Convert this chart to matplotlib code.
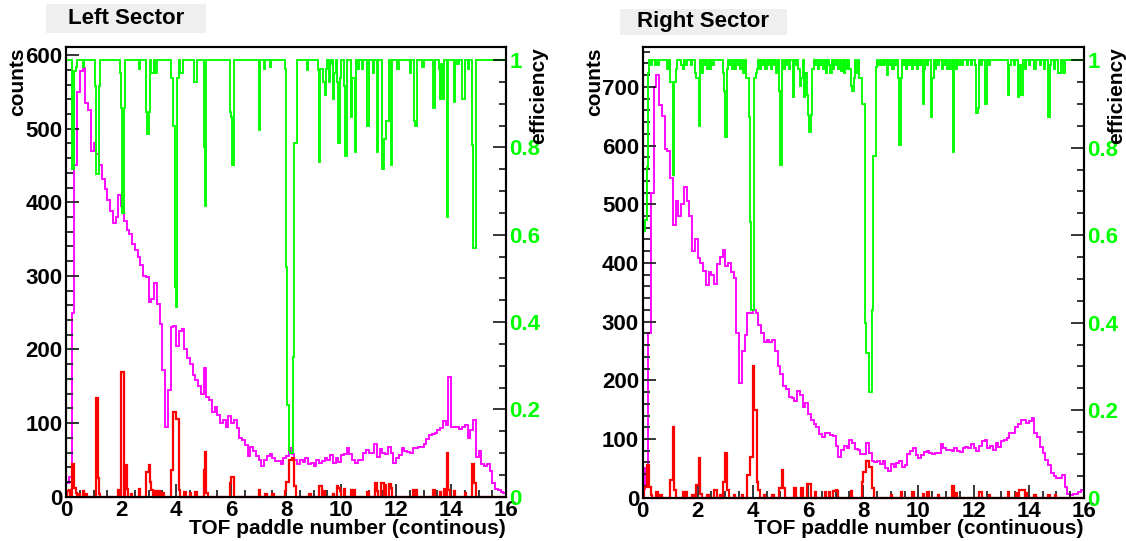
import numpy as np
import matplotlib
matplotlib.use('Agg')
import matplotlib.pyplot as plt
from matplotlib.patches import Rectangle
from matplotlib.ticker import MultipleLocator

plt.rcParams['font.family'] = ['Liberation Sans', 'DejaVu Sans']
plt.rcParams['font.weight'] = 'bold'

# ---- data ----
# magenta: all hits per paddle, 0.1 wide bins from 0 to 16
left_counts = [18, 27, 250, 450, 550, 578, 582, 535, 525, 470,
               480, 465, 450, 432, 418, 403, 388, 372, 380, 410,
               395, 375, 362, 357, 343, 335, 325, 315, 300, 298,
               265, 268, 290, 262, 235, 172, 95, 145, 230, 232,
               205, 225, 228, 200, 188, 180, 165, 158, 150, 140,
               175, 136, 131, 115, 122, 111, 100, 104, 95, 110,
               100, 104, 93, 80, 77, 70, 55, 68, 62, 55,
               50, 42, 50, 55, 58, 52, 49, 49, 45, 52,
               55, 66, 58, 50, 45, 50, 47, 52, 44, 46,
               42, 50, 46, 48, 52, 50, 57, 46, 52, 47,
               57, 58, 66, 58, 50, 46, 50, 50, 60, 64,
               59, 60, 72, 54, 65, 59, 58, 68, 59, 46,
               52, 56, 66, 62, 61, 60, 66, 66, 68, 68,
               72, 78, 84, 85, 86, 90, 93, 103, 98, 163,
               95, 95, 95, 92, 95, 97, 80, 90, 104, 54,
               62, 45, 42, 45, 35, 19, 10, 9, 6, 5]

right_counts = [15, 50, 280, 520, 700, 720, 670, 650, 595, 590,
                545, 465, 505, 480, 500, 530, 505, 480, 420, 440,
                408, 400, 387, 362, 385, 380, 365, 398, 410, 422,
                395, 400, 385, 375, 280, 195, 250, 278, 315, 315,
                320, 314, 295, 280, 265, 268, 265, 268, 250, 225,
                210, 190, 186, 172, 170, 165, 182, 175, 154, 162,
                143, 132, 126, 120, 109, 103, 111, 111, 107, 105,
                88, 69, 82, 88, 85, 98, 93, 83, 81, 74,
                75, 93, 76, 62, 60, 63, 58, 62, 50, 46,
                57, 53, 59, 63, 53, 55, 75, 80, 85, 72,
                68, 72, 78, 79, 76, 75, 77, 76, 92, 85,
                82, 81, 80, 84, 80, 78, 84, 86, 84, 91,
                85, 80, 88, 96, 98, 84, 88, 82, 93, 86,
                96, 99, 102, 110, 110, 120, 125, 132, 133, 128,
                130, 136, 110, 103, 86, 76, 65, 56, 42, 37,
                33, 33, 38, 18, 7, 5, 7, 7, 10, 13]

# red: second selection, 0.05 wide bins; only the non-empty bins are listed
left_red_x = [0.075, 0.125, 0.225, 0.275, 0.325, 0.375, 0.475, 0.625, 0.725,
              1.125, 1.175, 1.225, 1.925, 2.025, 2.075, 2.175, 2.225, 2.375,
              2.675, 2.925, 2.975, 3.025, 3.075, 3.125, 3.275, 3.375, 3.525,
              3.825, 3.875, 3.925, 3.975, 4.025, 4.075, 4.125, 4.325, 4.525,
              4.725, 5.025, 5.075, 5.125, 5.975, 6.025, 6.075, 7.025, 7.275,
              7.525, 7.975, 8.025, 8.075, 8.125, 8.175, 8.225, 8.275, 8.325,
              8.875, 9.225, 9.275, 9.375, 9.725, 9.875, 9.925, 9.975, 10.125,
              10.375, 10.475, 10.975, 11.275, 11.325, 11.475, 11.525, 11.625,
              11.775, 11.825, 12.625, 12.725, 13.375, 13.625, 13.775, 13.875,
              13.925, 14.125, 14.525, 14.775, 14.825, 14.875]
left_red_y = [8, 9, 45, 45, 12, 5, 4, 8, 4,
              134, 25, 4, 9, 170, 170, 43, 10, 3,
              10, 34, 34, 43, 20, 9, 8, 8, 5,
              36, 36, 115, 115, 106, 106, 9, 6, 5,
              6, 36, 61, 5, 18, 27, 27, 9, 4,
              3, 8, 20, 20, 50, 50, 52, 52, 14,
              4, 14, 14, 8, 4, 14, 12, 8, 11,
              9, 9, 7, 18, 8, 18, 18, 16,
              17, 12, 9, 9, 9, 6, 10, 59,
              9, 8, 5, 45, 45, 18]

right_red_x = [0.075, 0.125, 0.175, 0.225, 0.275, 0.325, 0.525, 0.675, 1.025,
               1.075, 1.125, 1.175, 1.475, 1.575, 1.825, 1.975, 2.025, 2.075,
               2.125, 2.375, 2.625, 2.675, 2.825, 2.925, 2.975, 3.025, 3.075,
               3.125, 3.325, 3.625, 3.825, 3.875, 3.925, 3.975, 4.025, 4.075,
               4.125, 4.175, 4.225, 4.425, 4.725, 4.975, 5.025, 5.075, 5.125,
               5.525, 5.775, 5.975, 6.025, 6.075, 6.275, 6.625, 6.775, 6.925,
               6.975, 7.025, 7.075, 7.575, 7.975, 8.025, 8.075, 8.125, 8.175,
               8.225, 8.275, 8.325, 8.375, 9.025, 9.375, 9.775, 9.825, 10.175,
               10.325, 10.375, 10.725, 11.225, 11.275, 11.375, 12.225, 12.275,
               12.575, 13.275, 13.575, 13.675, 13.725, 13.775, 13.825, 13.925,
               14.225, 14.725, 14.975]
right_red_y = [19, 19, 55, 55, 19, 5, 10, 4, 30,
               30, 121, 13, 10, 10, 4, 22, 22, 67,
               7, 5, 13, 13, 5, 27, 27, 77, 13,
               13, 5, 5, 39, 39, 70, 70, 224, 150,
               150, 27, 13, 5, 5, 16, 16, 48, 16,
               16, 16, 23, 23, 23, 10, 10, 10, 12,
               12, 13, 12, 12, 27, 44, 44, 62, 62,
               53, 53, 16, 16, 5, 10, 10, 10, 6,
               10, 10, 5, 20, 20, 8, 10, 10,
               5, 10, 8, 13, 13, 13, 13, 8,
               5, 5, 5]

# green: efficiency, 0.05 wide bins; listed bins are the ones below 1
left_eff_x = [0.225, 0.275, 0.325, 0.375, 0.625, 1.075, 1.125, 1.175, 1.225,
              1.975, 2.025, 2.075, 2.125, 2.675, 2.925, 2.975, 3.025, 3.125,
              3.175, 3.275, 3.825, 3.875, 3.925, 3.975, 4.025, 4.075, 4.175,
              4.225, 4.675, 4.725, 5.025, 5.075, 5.975, 6.025, 6.075, 7.025,
              7.225, 7.425, 7.975, 8.025, 8.075, 8.125, 8.175, 8.225, 8.275,
              8.325, 8.375, 8.775, 9.175, 9.225, 9.275, 9.325, 9.375, 9.425,
              9.475, 9.575, 9.625, 9.725, 9.775, 9.875, 9.925, 9.975, 10.125,
              10.175, 10.375, 10.425, 10.475, 10.525, 10.625, 10.775, 10.975,
              11.175, 11.325, 11.525, 11.575, 11.625, 11.675, 11.725, 11.825,
              12.075, 12.525, 12.675, 12.725, 12.975, 13.375, 13.575, 13.625,
              13.675, 13.725, 13.875, 14.125, 14.225, 14.275, 14.425, 14.475,
              14.625, 14.775, 14.825, 14.875]
left_eff_y = [0.75, 0.75, 0.975, 0.985, 0.985, 0.94, 0.74, 0.74, 0.94,
              0.97, 0.89, 0.65, 0.89, 0.98, 0.88, 0.83, 0.88, 0.97,
              0.97, 0.97, 0.96, 0.96, 0.85, 0.48, 0.435, 0.96, 0.97,
              0.97, 0.95, 0.95, 0.80, 0.665, 0.88, 0.87, 0.76, 0.84,
              0.98, 0.985, 0.98, 0.527, 0.21, 0.108, 0.10, 0.10, 0.32,
              0.81, 0.81, 0.977, 0.977, 0.767, 0.98, 0.98, 0.95, 0.92,
              0.98, 0.95, 0.99, 0.91, 0.97, 0.95, 0.81, 0.96, 0.94,
              0.78, 0.87, 0.96, 0.96, 0.79, 0.98, 0.98, 0.85,
              0.97, 0.79, 0.75, 0.82, 0.82, 0.86, 0.86, 0.76,
              0.98, 0.97, 0.86, 0.85, 0.985, 0.89, 0.98, 0.91,
              0.99, 0.91, 0.64, 0.905, 0.99, 0.99, 0.91, 0.91,
              0.98, 0.806, 0.57, 0.57]

right_eff_x = [0.025, 0.075, 0.125, 0.175, 0.225, 0.325, 0.475, 0.575, 0.925,
               1.025, 1.075, 1.125, 1.175, 1.225, 1.425, 1.475, 1.575, 1.775,
               1.925, 1.975, 2.025, 2.075, 2.175, 2.275, 2.375, 2.475, 2.575,
               2.925, 2.975, 3.025, 3.075, 3.175, 3.275, 3.375, 3.475, 3.575,
               3.675, 3.775, 3.825, 3.875, 3.925, 3.975, 4.025, 4.075, 4.125,
               4.175, 4.275, 4.375, 4.475, 4.575, 4.675, 4.775, 4.875, 4.975,
               5.025, 5.125, 5.225, 5.325, 5.475, 5.575, 5.675, 5.725, 5.775,
               5.875, 5.925, 5.975, 6.025, 6.075, 6.125, 6.175, 6.275, 6.375,
               6.475, 6.575, 6.675, 6.775, 6.825, 6.925, 7.025, 7.125, 7.225,
               7.325, 7.425, 7.525, 7.575, 7.625, 7.675, 7.775, 7.875, 7.925,
               7.975, 8.025, 8.075, 8.125, 8.175, 8.225, 8.275, 8.325, 8.375,
               8.425, 8.475, 8.575, 8.675, 8.775, 8.875, 8.975, 9.075, 9.175,
               9.275, 9.325, 9.375, 9.475, 9.575, 9.675, 9.775, 9.875, 9.975,
               10.075, 10.175, 10.225, 10.325, 10.475, 10.525, 10.625, 10.725,
               10.875, 10.975, 11.075, 11.175, 11.275, 11.375, 11.475, 11.575,
               11.775, 11.925, 12.075, 12.125, 12.175, 12.275, 12.425, 12.475,
               12.575, 13.275, 13.325, 13.475, 13.625, 13.675, 13.725, 13.775,
               13.875, 14.025, 14.225, 14.425, 14.575, 14.725, 14.775, 14.925,
               15.075, 15.125, 15.275]
right_eff_y = [0.61, 0.61, 0.634, 0.756, 0.97, 0.99, 0.99, 0.99, 0.98,
               0.95, 0.95, 0.737, 0.95, 0.98, 0.99, 0.98, 0.99, 0.99,
               0.97, 0.96, 0.96, 0.85, 0.97, 0.99, 0.98, 0.98, 0.99,
               0.97, 0.93, 0.825, 0.98, 0.99, 0.98, 0.98, 0.99, 0.98,
               0.97, 0.96, 0.96, 0.87, 0.63, 0.43, 0.43, 0.96, 0.97,
               0.98, 0.98, 0.99, 0.98, 0.99, 0.98, 0.99, 0.97, 0.93,
               0.76, 0.98, 0.99, 0.98, 0.916, 0.99, 0.98, 0.94, 0.96,
               0.916, 0.97, 0.92, 0.875, 0.836, 0.875, 0.98, 0.99, 0.98,
               0.99, 0.98, 0.97, 0.99, 0.97, 0.98, 0.99, 0.98, 0.975,
               0.97, 0.98, 0.98, 0.94, 0.93, 0.96, 0.97, 0.96, 0.96,
               0.90, 0.90, 0.40, 0.33, 0.33, 0.242, 0.242, 0.43, 0.78,
               0.78, 0.985, 0.99, 0.99, 0.99, 0.965, 0.99, 0.98, 0.99,
               0.96, 0.806, 0.96, 0.99, 0.98, 0.99, 0.98, 0.99, 0.98,
               0.99, 0.90, 0.98, 0.99, 0.87, 0.96, 0.98, 0.99,
               0.98, 0.99, 0.98, 0.98, 0.79, 0.98, 0.99, 0.99,
               0.99, 0.99, 0.99, 0.88, 0.89, 0.99, 0.90, 0.90,
               0.99, 0.92, 0.99, 0.99, 0.916, 0.99, 0.92, 0.92,
               0.98, 0.99, 0.98, 0.99, 0.98, 0.87, 0.99, 0.98,
               0.97, 0.97, 0.97]

panels = [
    dict(title='Left Sector', xlabel='TOF paddle number (continous)',
         counts=left_counts, red_x=left_red_x, red_y=left_red_y,
         eff_x=left_eff_x, eff_y=left_eff_y, ymax=611,
         ax_px=(66, 47, 506, 496.7), title_box=(46, 4, 206, 33)),
    dict(title='Right Sector', xlabel='TOF paddle number (continuous)',
         counts=right_counts, red_x=right_red_x, red_y=right_red_y,
         eff_x=right_eff_x, eff_y=right_eff_y, ymax=768,
         ax_px=(642.5, 47, 1084, 497.7), title_box=(620, 9, 787, 35)),
]

W, H = 1126, 541
fig = plt.figure(figsize=(W / 100, H / 100), dpi=100)

coarse_edges = np.linspace(0, 16, 161)
fine_edges = np.linspace(0, 16, 321)

for p in panels:
    x0, y0, x1, y1 = p['ax_px']
    ax = fig.add_axes([x0 / W, 1 - y1 / H, (x1 - x0) / W, (y1 - y0) / H])

    red = np.zeros(320)
    red[(np.array(p['red_x']) / 0.05).astype(int)] = p['red_y']
    eff = np.ones(320)
    eff[(np.array(p['eff_x']) / 0.05).astype(int)] = p['eff_y']

    ax.stairs(p['counts'], coarse_edges, color='#ff00ff', lw=1.35, baseline=0)
    ax.stairs(red, fine_edges, color='#ff0000', lw=1.6, baseline=0,
              zorder=2.6, clip_on=False)
    ax.set_xlim(0, 16)
    ax.set_ylim(0, p['ymax'])

    ax2 = ax.twinx()
    ax2.stairs(eff, fine_edges, color='#00ff00', lw=1.35, baseline=None)
    ax2.set_ylim(0, 1.03)

    for a in (ax, ax2):
        for s in a.spines.values():
            s.set_linewidth(1.5)
    ax.xaxis.set_major_locator(MultipleLocator(2))
    ax.xaxis.set_minor_locator(MultipleLocator(0.5))
    ax.yaxis.set_major_locator(MultipleLocator(100))
    ax.yaxis.set_minor_locator(MultipleLocator(20))
    ax2.yaxis.set_major_locator(MultipleLocator(0.2))
    ax2.yaxis.set_minor_locator(MultipleLocator(0.05))
    ax2.yaxis.set_major_formatter(plt.FuncFormatter(lambda v, _: '%g' % round(v, 1)))

    ax.tick_params(which='major', direction='in', length=9.5, width=1.1,
                   labelsize=16, pad=2.5)
    ax.tick_params(which='minor', direction='in', length=5, width=1.1)
    ax2.tick_params(which='major', direction='in', length=9.5, width=1.1,
                    labelsize=16, labelcolor='#00ff00', pad=2.5)
    ax2.tick_params(which='minor', direction='in', length=5, width=1.1)
    for lab in ax.get_xticklabels() + ax.get_yticklabels() + ax2.get_yticklabels():
        lab.set_fontweight('bold')

    # ROOT style axis titles placed at the axis ends
    fig.text(x1 / W, 1 - 528 / H, p['xlabel'], ha='right', va='center',
             fontsize=15, fontweight='bold')
    fig.text((x0 - 48) / W, 1 - y0 / H, 'counts', rotation=90, ha='center',
             va='top', fontsize=15, fontweight='bold')
    fig.text((x1 + 33) / W, 1 - y0 / H, 'efficiency', rotation=90,
             ha='center', va='top', fontsize=15, fontweight='bold')

    bx0, by0, bx1, by1 = p['title_box']
    fig.add_artist(Rectangle((bx0 / W, 1 - by1 / H), (bx1 - bx0) / W,
                             (by1 - by0) / H, transform=fig.transFigure,
                             facecolor='#efefef', edgecolor='none'))
    fig.text((bx0 + bx1) / 2 / W, 1 - (by0 + by1) / 2 / H, p['title'],
             ha='center', va='center', fontsize=16, fontweight='bold')

fig.savefig('out.png', dpi=100)
